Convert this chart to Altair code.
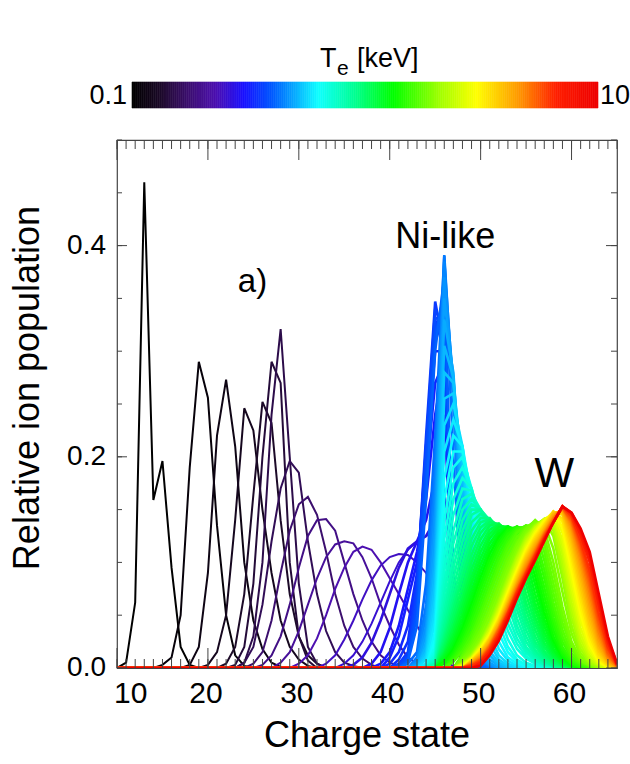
import altair as alt
import numpy as np
import pandas as pd

# ---------------- data ----------------
# electron temperature of each curve [keV]
line_te = [0.100, 0.107, 0.115, 0.123, 0.132, 0.141, 0.151,
           0.158, 0.174, 0.191, 0.209, 0.229, 0.245, 0.257,
           0.269, 0.288, 0.309, 0.320, 0.331, 0.343, 0.355, 0.367, 0.380, 0.393,
           0.407, 0.421, 0.437, 0.452,
           0.468, 0.484, 0.501, 0.519, 0.537, 0.556, 0.575, 0.596,
           0.617, 0.639, 0.661, 0.684, 0.708, 0.733, 0.759, 0.786,
           0.813, 0.842, 0.871, 0.902, 0.933, 0.966, 1.00, 1.035,
           1.07, 1.11, 1.15, 1.19, 1.23, 1.27, 1.32, 1.365,
           1.41, 1.46, 1.51, 1.56, 1.62, 1.68, 1.74, 1.80, 1.86, 1.93,
           2.00, 2.11, 2.24, 2.37, 2.51, 2.66, 2.82, 2.99,
           3.16, 3.35, 3.55, 3.76, 3.98, 4.22, 4.47, 4.73,
           5.01, 5.31, 5.62, 5.96, 6.31, 7.08, 7.94, 10.0]

# first charge state with a non-zero population, for each curve
line_start = [11, 15, 18, 20, 22, 23, 24,
              24, 25, 26, 28, 30, 33, 35,
              36, 38, 39, 40, 40, 41, 41, 41, 41, 42,
              42, 42, 43, 43,
              43, 43, 44, 44, 44, 44, 44, 44,
              45, 45, 45, 45, 45, 45, 45, 45,
              45, 46, 46, 46, 46, 46, 46, 46,
              46, 46, 46, 46, 46, 46, 46, 46,
              47, 47, 47, 47, 47, 48, 48, 48, 48, 48,
              48, 48, 48, 48, 48, 48, 48, 49,
              49, 49, 49, 49, 49, 49, 49, 49,
              49, 49, 49, 49, 49, 50, 50, 50]

# relative populations from line_start upward
line_pop = [
    [0.005, 0.062, 0.46, 0.159, 0.196, 0.095, 0.02, 0.003],
    [0.003, 0.01, 0.05, 0.19, 0.29, 0.256, 0.135, 0.05, 0.012, 0.002],
    [0.003, 0.02, 0.09, 0.22, 0.273, 0.21, 0.1, 0.045, 0.018, 0.005, 0.001],
    [0.003, 0.015, 0.05, 0.14, 0.246, 0.225, 0.15, 0.09, 0.045, 0.02, 0.008, 0.002],
    [0.004, 0.02, 0.07, 0.164, 0.252, 0.232, 0.14, 0.07, 0.03, 0.012, 0.004],
    [0.003, 0.02, 0.08, 0.2, 0.29, 0.27, 0.1, 0.03, 0.007],
    [0.005, 0.03, 0.1, 0.24, 0.321, 0.2, 0.08, 0.02, 0.004],
    [0.005, 0.02, 0.06, 0.12, 0.17, 0.196, 0.185, 0.12, 0.07, 0.035, 0.015, 0.005, 0.002],
    [0.004, 0.015, 0.045, 0.09, 0.13, 0.155, 0.162, 0.145, 0.11, 0.07, 0.04, 0.02, 0.009, 0.003],
    [0.003, 0.012, 0.03, 0.06, 0.095, 0.125, 0.14, 0.141, 0.13, 0.1, 0.07, 0.045, 0.025, 0.012, 0.005, 0.002],
    [0.005, 0.015, 0.035, 0.06, 0.085, 0.105, 0.117, 0.12, 0.118, 0.105, 0.085, 0.06, 0.04, 0.022, 0.01, 0.004, 0.002],
    [0.004, 0.012, 0.028, 0.05, 0.075, 0.095, 0.11, 0.115, 0.112, 0.1, 0.085, 0.07, 0.055, 0.04, 0.025, 0.014, 0.006, 0.002],
    [0.004, 0.012, 0.027, 0.045, 0.065, 0.083, 0.097, 0.105, 0.108, 0.107, 0.1, 0.09, 0.075, 0.05, 0.02, 0.006, 0.002],
    [0.004, 0.012, 0.025, 0.042, 0.062, 0.082, 0.1, 0.112, 0.12, 0.125, 0.13, 0.12, 0.05, 0.012, 0.003],
    [0.003, 0.01, 0.024, 0.045, 0.07, 0.095, 0.113, 0.12, 0.125, 0.14, 0.17, 0.06, 0.02, 0.005],
    [0.004, 0.015, 0.038, 0.07, 0.1, 0.12, 0.14, 0.18, 0.24, 0.065, 0.02, 0.006, 0.002],
    [0.004, 0.015, 0.04, 0.075, 0.11, 0.16, 0.24, 0.29, 0.045, 0.015, 0.005, 0.001],
    [0.01, 0.03, 0.065, 0.1, 0.18, 0.27, 0.29, 0.04, 0.012, 0.003],
    [0.004, 0.015, 0.04, 0.09, 0.2, 0.3, 0.3, 0.038, 0.01, 0.003],
    [0.008, 0.025, 0.085, 0.21, 0.33, 0.3, 0.039, 0.01, 0.003],
    [0.004, 0.015, 0.08, 0.22, 0.347, 0.3, 0.04, 0.011, 0.003],
    [0.003, 0.012, 0.07, 0.21, 0.34, 0.32, 0.042, 0.012, 0.003],
    [0.002, 0.01, 0.06, 0.2, 0.33, 0.337, 0.045, 0.012, 0.004],
    [0.008, 0.05, 0.18, 0.315, 0.355, 0.065, 0.018, 0.005, 0.002],
    [0.006, 0.04, 0.16, 0.3, 0.37, 0.09, 0.025, 0.007, 0.002],
    [0.004, 0.015, 0.08, 0.22, 0.39, 0.2, 0.05, 0.015, 0.005, 0.001],
    [0.01, 0.06, 0.19, 0.391, 0.25, 0.07, 0.02, 0.007, 0.002],
    [0.007, 0.05, 0.17, 0.385, 0.26, 0.09, 0.03, 0.01, 0.002],
    [0.005, 0.04, 0.15, 0.37, 0.27, 0.11, 0.04, 0.012, 0.003],
    [0.003, 0.032, 0.13, 0.35, 0.275, 0.13, 0.055, 0.018, 0.005],
    [0.025, 0.11, 0.33, 0.28, 0.15, 0.07, 0.025, 0.008, 0.002],
    [0.02, 0.095, 0.305, 0.275, 0.17, 0.085, 0.035, 0.012, 0.003],
    [0.015, 0.08, 0.28, 0.27, 0.19, 0.1, 0.043, 0.016, 0.005, 0.001],
    [0.011, 0.067, 0.255, 0.26, 0.2, 0.115, 0.057, 0.023, 0.008, 0.002],
    [0.008, 0.055, 0.23, 0.25, 0.21, 0.13, 0.07, 0.03, 0.012, 0.004, 0.001],
    [0.004, 0.045, 0.205, 0.235, 0.21, 0.145, 0.085, 0.042, 0.018, 0.007, 0.002],
    [0.035, 0.18, 0.22, 0.21, 0.16, 0.1, 0.055, 0.025, 0.01, 0.004, 0.001],
    [0.027, 0.16, 0.205, 0.205, 0.165, 0.112, 0.067, 0.033, 0.015, 0.006, 0.002],
    [0.02, 0.14, 0.19, 0.2, 0.17, 0.125, 0.08, 0.042, 0.02, 0.008, 0.003, 0.001],
    [0.016, 0.122, 0.175, 0.19, 0.17, 0.132, 0.09, 0.052, 0.027, 0.012, 0.005, 0.002],
    [0.012, 0.105, 0.16, 0.18, 0.17, 0.14, 0.1, 0.062, 0.035, 0.018, 0.009, 0.004, 0.001],
    [0.009, 0.092, 0.145, 0.17, 0.168, 0.145, 0.11, 0.073, 0.042, 0.023, 0.011, 0.005, 0.002],
    [0.007, 0.08, 0.13, 0.16, 0.165, 0.15, 0.12, 0.085, 0.05, 0.028, 0.014, 0.007, 0.003, 0.001],
    [0.005, 0.07, 0.118, 0.15, 0.16, 0.15, 0.128, 0.095, 0.06, 0.034, 0.017, 0.008, 0.003, 0.001],
    [0.004, 0.06, 0.105, 0.14, 0.155, 0.15, 0.135, 0.105, 0.07, 0.04, 0.02, 0.01, 0.004, 0.002],
    [0.052, 0.095, 0.13, 0.15, 0.15, 0.138, 0.112, 0.079, 0.047, 0.025, 0.012, 0.005, 0.002],
    [0.045, 0.085, 0.12, 0.145, 0.15, 0.14, 0.12, 0.088, 0.055, 0.03, 0.014, 0.006, 0.002],
    [0.039, 0.076, 0.11, 0.138, 0.146, 0.141, 0.125, 0.097, 0.062, 0.036, 0.017, 0.007, 0.002],
    [0.033, 0.068, 0.1, 0.13, 0.142, 0.142, 0.13, 0.105, 0.07, 0.042, 0.021, 0.009, 0.003],
    [0.029, 0.061, 0.092, 0.122, 0.138, 0.141, 0.133, 0.112, 0.079, 0.048, 0.025, 0.011, 0.004, 0.001],
    [0.025, 0.055, 0.085, 0.115, 0.133, 0.14, 0.135, 0.118, 0.088, 0.055, 0.03, 0.013, 0.005, 0.002],
    [0.021, 0.049, 0.077, 0.107, 0.128, 0.138, 0.136, 0.123, 0.096, 0.062, 0.036, 0.016, 0.006, 0.002],
    [0.018, 0.043, 0.07, 0.1, 0.122, 0.135, 0.137, 0.128, 0.103, 0.07, 0.042, 0.02, 0.008, 0.003],
    [0.015, 0.038, 0.064, 0.093, 0.116, 0.131, 0.136, 0.131, 0.11, 0.079, 0.048, 0.024, 0.01, 0.003, 0.001],
    [0.013, 0.033, 0.058, 0.086, 0.11, 0.127, 0.135, 0.133, 0.117, 0.087, 0.055, 0.029, 0.012, 0.004, 0.001],
    [0.011, 0.029, 0.052, 0.08, 0.104, 0.123, 0.133, 0.134, 0.122, 0.095, 0.062, 0.034, 0.015, 0.005, 0.001],
    [0.009, 0.025, 0.047, 0.073, 0.098, 0.118, 0.13, 0.134, 0.127, 0.103, 0.07, 0.04, 0.018, 0.006, 0.002],
    [0.007, 0.021, 0.042, 0.067, 0.092, 0.113, 0.127, 0.134, 0.13, 0.11, 0.079, 0.046, 0.022, 0.008, 0.002],
    [0.006, 0.018, 0.037, 0.061, 0.086, 0.108, 0.124, 0.133, 0.132, 0.116, 0.087, 0.053, 0.026, 0.01, 0.003],
    [0.004, 0.015, 0.033, 0.055, 0.08, 0.103, 0.12, 0.132, 0.133, 0.122, 0.095, 0.06, 0.03, 0.012, 0.003, 0.001],
    [0.013, 0.029, 0.05, 0.075, 0.098, 0.117, 0.13, 0.134, 0.127, 0.103, 0.068, 0.036, 0.014, 0.004, 0.001],
    [0.011, 0.025, 0.045, 0.069, 0.093, 0.113, 0.127, 0.134, 0.13, 0.11, 0.076, 0.042, 0.017, 0.005, 0.001],
    [0.009, 0.022, 0.04, 0.063, 0.087, 0.108, 0.124, 0.133, 0.133, 0.118, 0.085, 0.048, 0.02, 0.007, 0.002],
    [0.007, 0.019, 0.035, 0.057, 0.081, 0.103, 0.12, 0.132, 0.134, 0.124, 0.093, 0.055, 0.025, 0.009, 0.003],
    [0.006, 0.016, 0.031, 0.052, 0.075, 0.098, 0.117, 0.13, 0.135, 0.13, 0.102, 0.062, 0.03, 0.011, 0.004, 0.001],
    [0.013, 0.027, 0.047, 0.07, 0.093, 0.113, 0.128, 0.135, 0.133, 0.11, 0.071, 0.036, 0.014, 0.005, 0.001],
    [0.011, 0.024, 0.042, 0.064, 0.087, 0.108, 0.124, 0.134, 0.137, 0.118, 0.08, 0.043, 0.018, 0.006, 0.002],
    [0.009, 0.021, 0.037, 0.058, 0.081, 0.103, 0.12, 0.133, 0.139, 0.125, 0.09, 0.05, 0.021, 0.007, 0.002],
    [0.008, 0.018, 0.033, 0.053, 0.076, 0.098, 0.117, 0.131, 0.14, 0.132, 0.1, 0.058, 0.025, 0.008, 0.002],
    [0.006, 0.015, 0.029, 0.048, 0.07, 0.093, 0.113, 0.128, 0.138, 0.137, 0.113, 0.072, 0.033, 0.011, 0.003],
    [0.005, 0.013, 0.026, 0.043, 0.065, 0.088, 0.109, 0.126, 0.136, 0.14, 0.125, 0.085, 0.04, 0.014, 0.004],
    [0.004, 0.012, 0.024, 0.041, 0.062, 0.085, 0.106, 0.124, 0.135, 0.141, 0.13, 0.093, 0.048, 0.018, 0.005, 0.001],
    [0.004, 0.011, 0.023, 0.039, 0.059, 0.082, 0.104, 0.122, 0.134, 0.141, 0.135, 0.1, 0.055, 0.022, 0.007, 0.002],
    [0.003, 0.01, 0.022, 0.037, 0.057, 0.079, 0.101, 0.12, 0.133, 0.141, 0.139, 0.108, 0.062, 0.027, 0.009, 0.002],
    [0.003, 0.01, 0.021, 0.036, 0.055, 0.077, 0.099, 0.118, 0.132, 0.141, 0.143, 0.115, 0.07, 0.032, 0.012, 0.003],
    [0.002, 0.009, 0.02, 0.034, 0.053, 0.075, 0.096, 0.116, 0.13, 0.141, 0.145, 0.121, 0.077, 0.038, 0.015, 0.004, 0.001],
    [0.002, 0.009, 0.019, 0.033, 0.051, 0.073, 0.094, 0.114, 0.129, 0.14, 0.147, 0.128, 0.085, 0.045, 0.018, 0.005, 0.001],
    [0.008, 0.018, 0.031, 0.049, 0.071, 0.092, 0.112, 0.127, 0.139, 0.148, 0.133, 0.092, 0.051, 0.022, 0.006, 0.001],
    [0.008, 0.017, 0.03, 0.048, 0.069, 0.09, 0.11, 0.126, 0.138, 0.148, 0.138, 0.1, 0.058, 0.026, 0.008, 0.002],
    [0.007, 0.016, 0.029, 0.046, 0.067, 0.088, 0.108, 0.124, 0.136, 0.148, 0.141, 0.106, 0.065, 0.031, 0.01, 0.002],
    [0.007, 0.015, 0.028, 0.045, 0.065, 0.086, 0.106, 0.122, 0.135, 0.148, 0.145, 0.112, 0.072, 0.036, 0.013, 0.003],
    [0.006, 0.014, 0.027, 0.043, 0.063, 0.084, 0.104, 0.12, 0.133, 0.147, 0.147, 0.118, 0.078, 0.041, 0.016, 0.004],
    [0.006, 0.013, 0.026, 0.042, 0.062, 0.082, 0.102, 0.118, 0.132, 0.146, 0.149, 0.123, 0.085, 0.047, 0.019, 0.005],
    [0.005, 0.012, 0.024, 0.04, 0.06, 0.08, 0.1, 0.116, 0.13, 0.145, 0.15, 0.127, 0.091, 0.053, 0.022, 0.006, 0.001],
    [0.005, 0.011, 0.023, 0.039, 0.059, 0.079, 0.098, 0.114, 0.129, 0.143, 0.151, 0.131, 0.097, 0.059, 0.026, 0.008, 0.001],
    [0.004, 0.01, 0.022, 0.038, 0.057, 0.077, 0.096, 0.112, 0.128, 0.142, 0.152, 0.134, 0.102, 0.065, 0.03, 0.009, 0.001],
    [0.004, 0.009, 0.021, 0.037, 0.056, 0.076, 0.094, 0.111, 0.127, 0.141, 0.152, 0.137, 0.107, 0.071, 0.034, 0.011, 0.002],
    [0.003, 0.008, 0.02, 0.036, 0.054, 0.074, 0.092, 0.109, 0.126, 0.14, 0.152, 0.139, 0.111, 0.077, 0.039, 0.013, 0.002],
    [0.003, 0.008, 0.019, 0.035, 0.053, 0.073, 0.091, 0.108, 0.125, 0.139, 0.152, 0.141, 0.115, 0.082, 0.043, 0.015, 0.002],
    [0.002, 0.007, 0.018, 0.033, 0.052, 0.072, 0.09, 0.107, 0.124, 0.138, 0.153, 0.143, 0.118, 0.087, 0.048, 0.018, 0.003],
    [0.002, 0.006, 0.017, 0.032, 0.051, 0.071, 0.089, 0.106, 0.123, 0.138, 0.153, 0.144, 0.121, 0.092, 0.052, 0.02, 0.003],
    [0.005, 0.015, 0.03, 0.049, 0.069, 0.087, 0.104, 0.122, 0.138, 0.153, 0.146, 0.126, 0.1, 0.06, 0.024, 0.003],
    [0.003, 0.013, 0.028, 0.047, 0.067, 0.086, 0.103, 0.121, 0.138, 0.153, 0.147, 0.13, 0.106, 0.066, 0.027, 0.004],
    [0.002, 0.012, 0.026, 0.045, 0.066, 0.085, 0.102, 0.12, 0.138, 0.153, 0.147, 0.132, 0.11, 0.07, 0.03, 0.004],
]
assert len(line_te) == len(line_start) == len(line_pop)

charge_min, charge_max = 10, 65
x_label_values = [10, 20, 30, 40, 50, 60]
x_minor_ticks = list(range(10, 66))
x_major_ticks = [10, 20, 30, 40, 50, 60]
y_label_values = [0.0, 0.2, 0.4]
y_minor_ticks = [0.0, 0.05, 0.1, 0.15, 0.2, 0.25, 0.3, 0.35, 0.4, 0.45, 0.5]
y_major_ticks = [0.0, 0.2, 0.4]

annot_text = ["Ni-like", "a)", "W"]
annot_q = [46.1, 24.9, 58.1]
annot_v = [0.398, 0.356, 0.171]
annot_size = [36, 33, 42]

# colour map (position along colour bar 0..1 -> colour)
cmap_pos = [0.0, 0.06, 0.12, 0.18, 0.24, 0.30, 0.40, 0.48, 0.56, 0.66, 0.74, 0.83, 0.91, 1.0]
cmap_col = ["#000000", "#1c0a28", "#3c0f6e", "#4d10b0", "#1a10ff", "#0058ff", "#10ffff",
            "#00ff90", "#00ff00", "#a0ff00", "#ffff00", "#ff9900", "#ff2000", "#ee0000"]

# ---------------- build tables ----------------
rows = []
for te, s, pop in zip(line_te, line_start, line_pop):
    for q in range(charge_min, charge_max + 1):
        k = q - s
        v = pop[k] if 0 <= k < len(pop) else 0.0
        rows.append({"te": te, "q": q, "v": v})
df = pd.DataFrame(rows).sort_values(["te", "q"]).reset_index(drop=True)

W, H = 500, 528
FONT = "Liberation Sans"
frame_c = "#444444"

stop_te = [float(10 ** (-1 + 2 * p)) for p in cmap_pos]
cs = alt.Scale(type="log", domain=stop_te, range=cmap_col, interpolate="rgb")
xs = alt.Scale(domain=[charge_min, charge_max], nice=False, zero=False)
ys = alt.Scale(domain=[0, 0.5], nice=False, zero=False)

lines = alt.Chart(df).mark_line(clip=True).encode(
    x=alt.X("q:Q", scale=xs, axis=None),
    y=alt.Y("v:Q", scale=ys, axis=None),
    color=alt.Color("te:Q", scale=cs, legend=None),
    detail="te:Q",
    strokeWidth=alt.condition("datum.te < 0.26", alt.value(2.0), alt.value(2.6)),
)


def xtick_layer(vals, length, top):
    d = pd.DataFrame({"t": vals})
    if top:
        yy, yy2 = alt.value(0), alt.value(length)
    else:
        yy, yy2 = alt.value(H), alt.value(H - length)
    return alt.Chart(d).mark_rule(color=frame_c, strokeWidth=1).encode(
        x=alt.X("t:Q", scale=xs, axis=None), y=yy, y2=yy2)


def ytick_layer(vals, length, left):
    d = pd.DataFrame({"t": vals})
    if left:
        xx, xx2 = alt.value(0), alt.value(length)
    else:
        xx, xx2 = alt.value(W), alt.value(W - length)
    return alt.Chart(d).mark_rule(color=frame_c, strokeWidth=1).encode(
        y=alt.Y("t:Q", scale=ys, axis=None), x=xx, x2=xx2)


ticks = [
    xtick_layer(x_minor_ticks, 9, True), xtick_layer(x_major_ticks, 20, True),
    xtick_layer(x_minor_ticks, 9, False), xtick_layer(x_major_ticks, 20, False),
    ytick_layer(y_minor_ticks, 5, True), ytick_layer(y_major_ticks, 10, True),
    ytick_layer(y_minor_ticks, 6, False), ytick_layer(y_major_ticks, 11, False),
]

# tick labels and axis titles (drawn as text through the scales)
xlab_df = pd.DataFrame({"t": x_label_values, "txt": [str(v) for v in x_label_values]})
xlab_first = alt.Chart(xlab_df.iloc[:1]).mark_text(
    font=FONT, fontSize=30, align="left", baseline="alphabetic", dx=-3, color="black").encode(
    x=alt.X("t:Q", scale=xs, axis=None), y=alt.value(H + 35), text="txt:N")
xlab_rest = alt.Chart(xlab_df.iloc[1:]).mark_text(
    font=FONT, fontSize=30, align="center", baseline="alphabetic", dx=-2, color="black").encode(
    x=alt.X("t:Q", scale=xs, axis=None), y=alt.value(H + 35), text="txt:N")
ylab_df = pd.DataFrame({"t": y_label_values, "txt": [f"{v:.1f}" for v in y_label_values]})
ylab = alt.Chart(ylab_df).mark_text(
    font=FONT, fontSize=28, align="right", baseline="middle", color="black").encode(
    y=alt.Y("t:Q", scale=ys, axis=None), x=alt.value(-11), text="txt:N")
xtitle = alt.Chart(pd.DataFrame({"txt": ["Charge state"]})).mark_text(
    font=FONT, fontSize=36, align="center", baseline="alphabetic", color="black").encode(
    x=alt.value(W / 2), y=alt.value(H + 79), text="txt:N")
ytitle = alt.Chart(pd.DataFrame({"txt": ["Relative ion population"]})).mark_text(
    font=FONT, fontSize=36, align="center", baseline="middle", angle=270, color="black").encode(
    x=alt.value(-89), y=alt.value(248), text="txt:N")

annot_df = pd.DataFrame({"txt": annot_text, "q": annot_q, "v": annot_v, "size": annot_size})
annots = alt.Chart(annot_df).mark_text(font=FONT, baseline="alphabetic", align="center",
                                         color="black").encode(
    x=alt.X("q:Q", scale=xs, axis=None),
    y=alt.Y("v:Q", scale=ys, axis=None),
    text="txt:N",
    size=alt.Size("size:Q", scale=None, legend=None),
)

main = alt.layer(lines, *ticks, xlab_first, xlab_rest, ylab, annots)

# ---------------- colour bar ----------------
edges = np.logspace(-1, 1, 241)
cb_df = pd.DataFrame({"lo": edges[:-1], "hi": edges[1:], "mid": np.sqrt(edges[:-1] * edges[1:])})
colorbar = alt.Chart(cb_df).mark_rect(strokeWidth=0.6).encode(
    x=alt.X("lo:Q", scale=alt.Scale(type="log", domain=[0.1, 10], range=[15, 481]), axis=None),
    x2="hi:Q",
    y=alt.value(-58), y2=alt.value(-32),
    color=alt.Color("mid:Q", scale=cs, legend=None),
    stroke=alt.Color("mid:Q", scale=cs, legend=None),
)

cb_lab_lo = alt.Chart(pd.DataFrame({"txt": ["0.1"]})).mark_text(
    font=FONT, fontSize=27, align="right", baseline="middle", color="black").encode(
    x=alt.value(10), y=alt.value(-44), text="txt:N")
cb_lab_hi = alt.Chart(pd.DataFrame({"txt": ["10"]})).mark_text(
    font=FONT, fontSize=27, align="left", baseline="middle", color="black").encode(
    x=alt.value(483), y=alt.value(-44), text="txt:N")
t_main = alt.Chart(pd.DataFrame({"txt": ["T"]})).mark_text(
    font=FONT, fontSize=27, align="left", baseline="alphabetic", color="black").encode(
    x=alt.value(203), y=alt.value(-73), text="txt:N")
t_sub = alt.Chart(pd.DataFrame({"txt": ["e"]})).mark_text(
    font=FONT, fontSize=21, align="left", baseline="alphabetic", color="black").encode(
    x=alt.value(220), y=alt.value(-65), text="txt:N")
t_unit = alt.Chart(pd.DataFrame({"txt": ["[keV]"]})).mark_text(
    font=FONT, fontSize=27, align="left", baseline="alphabetic", color="black").encode(
    x=alt.value(240), y=alt.value(-73), text="txt:N")

chart = alt.layer(main, colorbar, cb_lab_lo, cb_lab_hi, t_main, t_sub, t_unit,
                  xtitle, ytitle).resolve_scale(
    x="independent"
).properties(
    width=W, height=H,
    padding={"left": 117, "top": 140, "right": 13, "bottom": 96},
    autosize=alt.AutoSizeParams(type="none"),
    background="white",
).configure_view(
    stroke=frame_c, strokeWidth=1.2
)

chart.save("out.html", embed_options={"renderer": "svg", "actions": False})
